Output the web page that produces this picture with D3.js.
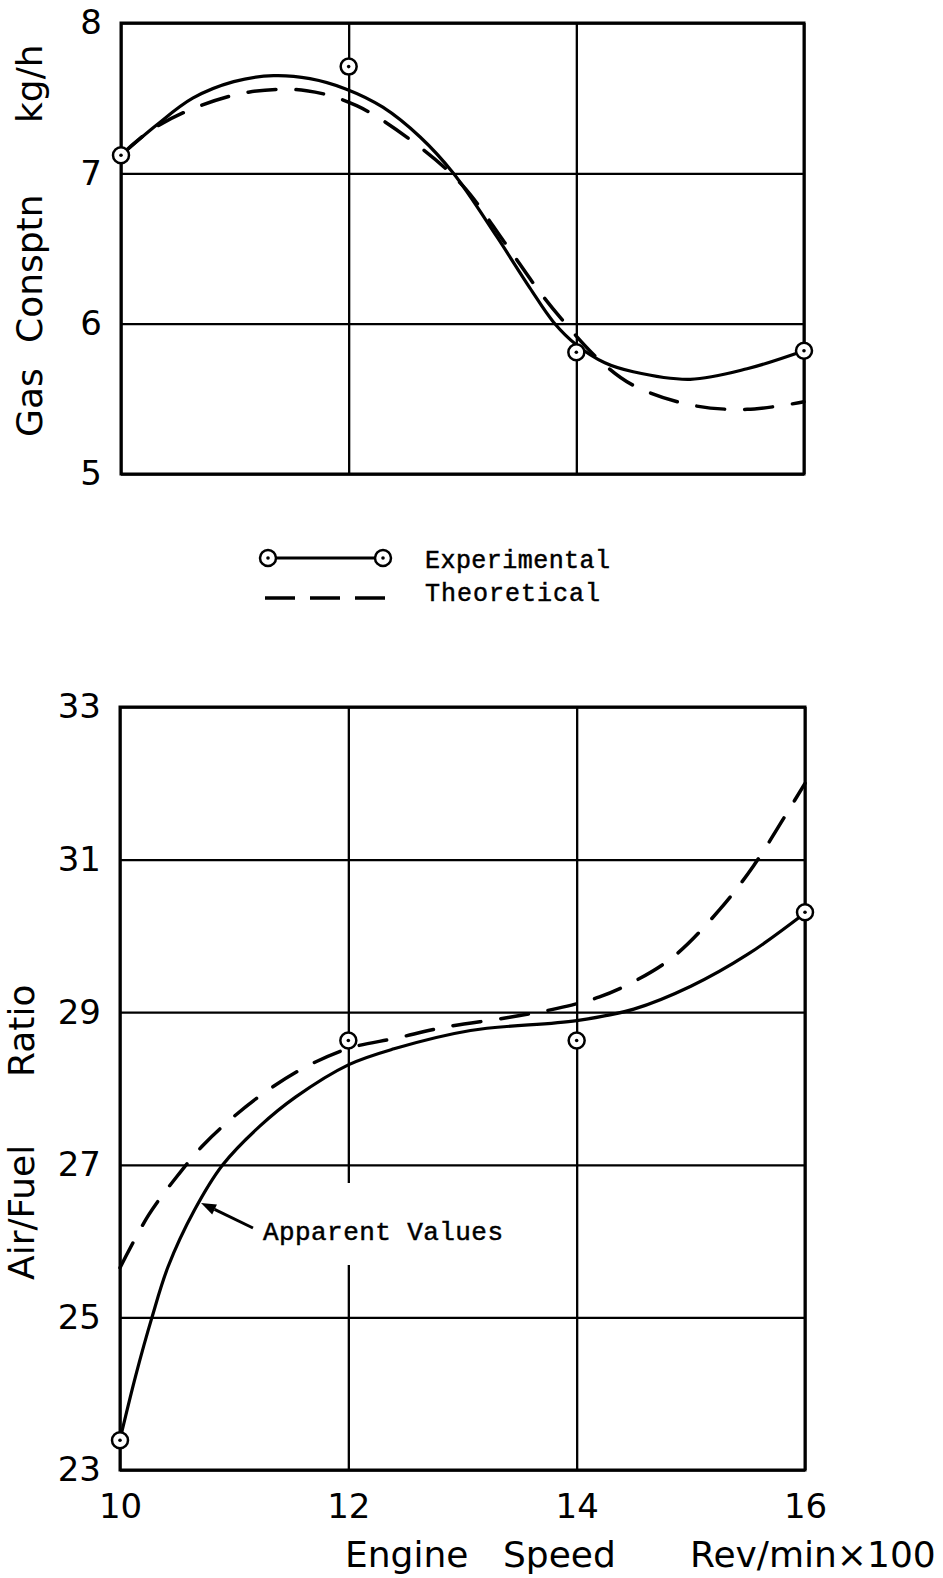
<!DOCTYPE html>
<html lang="en">
<head>
<meta charset="UTF-8" />
<title>Gas consumption and air/fuel ratio vs engine speed</title>
<script src="https://d3js.org/d3.v7.min.js"></script>
<style>
  body { margin: 0; background: #fff; }
  svg { display: block; background: #fff; }
  .tick text { font-family: "DejaVu Sans", sans-serif; font-size: 34px; fill: #000; }
  .tick line { stroke: #000; stroke-width: 2.3; }
  .axis-title { font-family: "DejaVu Sans", sans-serif; font-size: 36px; fill: #000; }
  .mono { font-family: "Liberation Mono", monospace; font-size: 25px; fill: #000; stroke: #000; stroke-width: 0.5; }
</style>
</head>
<body>
<svg width="943" height="1578"></svg>
<script>
  // Axes
  const speedTicks = [10, 12, 14, 16];
  const gasTicks = [5, 6, 7, 8];
  const afrTicks = [23, 25, 27, 29, 31, 33];

  // Gas consumption (kg/h) - measured points
  const gasPointSpeed = [10, 12, 14, 16];
  const gasPointValue = [7.12, 7.71, 5.81, 5.82];
  // Gas consumption - experimental curve
  const gasExpSpeed = [10, 10.31, 10.63, 10.99, 11.34, 11.66, 11.98, 12.3, 12.63, 12.92, 13.3, 13.59, 13.8, 14, 14.25, 14.5, 15, 15.5, 16];
  const gasExpValue = [7.12, 7.32, 7.50, 7.61, 7.65, 7.63, 7.56, 7.44, 7.24, 7.0, 6.58, 6.24, 6.01, 5.86, 5.74, 5.68, 5.63, 5.70, 5.82];
  // Gas consumption - theoretical curve
  const gasTheoSpeed = [10, 10.25, 10.63, 11.12, 11.63, 12.07, 12.6, 13.0, 13.37, 13.65, 13.86, 14.2, 14.5, 15, 15.5, 16];
  const gasTheoValue = [7.12, 7.28, 7.43, 7.54, 7.55, 7.45, 7.19, 6.92, 6.54, 6.24, 6.04, 5.76, 5.59, 5.46, 5.43, 5.48];

  // Air/fuel ratio - measured points
  const afrPointSpeed = [10, 12, 14, 16];
  const afrPointValue = [23.39, 28.63, 28.63, 30.31];
  // Air/fuel ratio - experimental (apparent values) curve
  const afrExpSpeed = [10, 10.14, 10.28, 10.42, 10.65, 10.9, 11.22, 11.54, 12, 12.4, 13.07, 14, 14.5, 15, 15.5, 16];
  const afrExpValue = [23.4, 24.25, 25.0, 25.66, 26.4, 27.0, 27.5, 27.89, 28.31, 28.52, 28.76, 28.89, 29.04, 29.34, 29.76, 30.3];
  // Air/fuel ratio - theoretical curve
  const afrTheoSpeed = [10, 10.25, 10.5, 10.73, 10.98, 11.25, 11.61, 12.01, 12.42, 12.83, 13.4, 13.83, 14.2, 14.5, 14.85, 15.25, 15.55, 15.87, 16];
  const afrTheoValue = [25.65, 26.34, 26.85, 27.26, 27.61, 27.93, 28.27, 28.53, 28.66, 28.8, 28.93, 29.05, 29.2, 29.4, 29.73, 30.34, 30.92, 31.68, 32.0];

  const svg = d3.select("svg");

  function panel(box, yDomain, yTicks, showXLabels) {
    const x = d3.scaleLinear().domain([10, 16]).range([box.left, box.right]);
    const y = d3.scaleLinear().domain(yDomain).range([box.bottom, box.top]);
    const g = svg.append("g");

    g.append("g")
      .attr("transform", `translate(0,${box.bottom})`)
      .call(d3.axisBottom(x).tickValues(speedTicks)
        .tickSize(-(box.bottom - box.top)).tickPadding(24)
        .tickFormat(showXLabels ? d3.format("d") : () => ""))
      .call(a => a.select(".domain").remove());

    g.append("g")
      .attr("transform", `translate(${box.left},0)`)
      .call(d3.axisLeft(y).tickValues(yTicks)
        .tickSize(-(box.right - box.left)).tickPadding(19)
        .tickFormat(d3.format("d")))
      .call(a => a.select(".domain").remove());

    g.selectAll("g").attr("font-size", null).attr("font-family", null);

    g.append("rect")
      .attr("x", box.left).attr("y", box.top)
      .attr("width", box.right - box.left).attr("height", box.bottom - box.top)
      .attr("fill", "none").attr("stroke", "#000").attr("stroke-width", 3);

    return { x, y, g };
  }

  function curve(p, speeds, values, dashed) {
    const line = d3.line()
      .x(d => p.x(d[0]))
      .y(d => p.y(d[1]))
      .curve(d3.curveCatmullRom.alpha(0.5));
    p.g.append("path")
      .datum(d3.zip(speeds, values))
      .attr("d", line)
      .attr("fill", "none")
      .attr("stroke", "#000")
      .attr("stroke-width", dashed ? 3.5 : 3.2)
      .attr("stroke-linecap", "round")
      .attr("stroke-dasharray", dashed ? "28,20" : null);
  }

  function points(p, speeds, values) {
    const data = d3.zip(speeds, values);
    p.g.selectAll(null).data(data).enter().append("circle")
      .attr("cx", d => p.x(d[0])).attr("cy", d => p.y(d[1]))
      .attr("r", 8).attr("fill", "#fff").attr("stroke", "#000").attr("stroke-width", 2.5);
    p.g.selectAll(null).data(data).enter().append("circle")
      .attr("cx", d => p.x(d[0])).attr("cy", d => p.y(d[1]))
      .attr("r", 1.8).attr("fill", "#000");
  }

  // ---- Top: gas consumption ----
  const gasPanel = panel({ left: 121, right: 804, top: 23, bottom: 474 }, [5, 8], gasTicks, false);
  curve(gasPanel, gasTheoSpeed, gasTheoValue, true);
  curve(gasPanel, gasExpSpeed, gasExpValue, false);
  points(gasPanel, gasPointSpeed, gasPointValue);

  [["Gas", 437], ["Consptn", 343], ["kg/h", 123]].forEach(([w, yy]) => {
    svg.append("text").attr("class", "axis-title")
      .attr("transform", `translate(42,${yy}) rotate(-90)`)
      .text(w);
  });

  // ---- Legend ----
  const lg = svg.append("g");
  lg.append("line").attr("x1", 268).attr("x2", 383).attr("y1", 558).attr("y2", 558)
    .attr("stroke", "#000").attr("stroke-width", 3);
  [268, 383].forEach(cx => {
    lg.append("circle").attr("cx", cx).attr("cy", 558).attr("r", 8)
      .attr("fill", "#fff").attr("stroke", "#000").attr("stroke-width", 2.5);
    lg.append("circle").attr("cx", cx).attr("cy", 558).attr("r", 1.8).attr("fill", "#000");
  });
  lg.append("line").attr("x1", 265).attr("x2", 385).attr("y1", 598).attr("y2", 598)
    .attr("stroke", "#000").attr("stroke-width", 3.5).attr("stroke-dasharray", "30,15");
  lg.append("text").attr("class", "mono").attr("x", 425).attr("y", 568)
    .attr("textLength", 185).text("Experimental");
  lg.append("text").attr("class", "mono").attr("x", 425).attr("y", 601)
    .attr("textLength", 175).text("Theoretical");

  // ---- Bottom: air/fuel ratio ----
  const afrPanel = panel({ left: 120, right: 805, top: 707, bottom: 1470 }, [23, 33], afrTicks, true);

  // gap in the 12 gridline around the annotation
  afrPanel.g.append("rect")
    .attr("x", afrPanel.x(12) - 4).attr("y", 1183).attr("width", 8).attr("height", 82)
    .attr("fill", "#fff");

  curve(afrPanel, afrTheoSpeed, afrTheoValue, true);
  curve(afrPanel, afrExpSpeed, afrExpValue, false);
  points(afrPanel, afrPointSpeed, afrPointValue);

  // annotation arrow pointing at the apparent-values curve
  const tip = [afrPanel.x(10.71), afrPanel.y(26.5)];
  const tail = [253, 1228];
  const ang = Math.atan2(tail[1] - tip[1], tail[0] - tip[0]);
  const hl = 15, hw = 5.5;
  const base = [tip[0] + hl * Math.cos(ang), tip[1] + hl * Math.sin(ang)];
  afrPanel.g.append("line")
    .attr("x1", base[0]).attr("y1", base[1]).attr("x2", tail[0]).attr("y2", tail[1])
    .attr("stroke", "#000").attr("stroke-width", 3);
  afrPanel.g.append("polygon")
    .attr("points", [
      tip,
      [base[0] - hw * Math.sin(ang), base[1] + hw * Math.cos(ang)],
      [base[0] + hw * Math.sin(ang), base[1] - hw * Math.cos(ang)]
    ].map(p => p.join(",")).join(" "))
    .attr("fill", "#000");
  afrPanel.g.append("text").attr("class", "mono")
    .attr("x", 263).attr("y", 1240).style("font-size", "26px")
    .attr("textLength", 240).text("Apparent Values");

  [["Air/Fuel", 1280], ["Ratio", 1077]].forEach(([w, yy]) => {
    svg.append("text").attr("class", "axis-title")
      .attr("transform", `translate(34,${yy}) rotate(-90)`)
      .text(w);
  });

  [["Engine", 345], ["Speed", 503], ["Rev/min\u00d7100", 690]].forEach(([w, xx]) => {
    svg.append("text").attr("class", "axis-title")
      .attr("x", xx).attr("y", 1567)
      .text(w);
  });
</script>
</body>
</html>
